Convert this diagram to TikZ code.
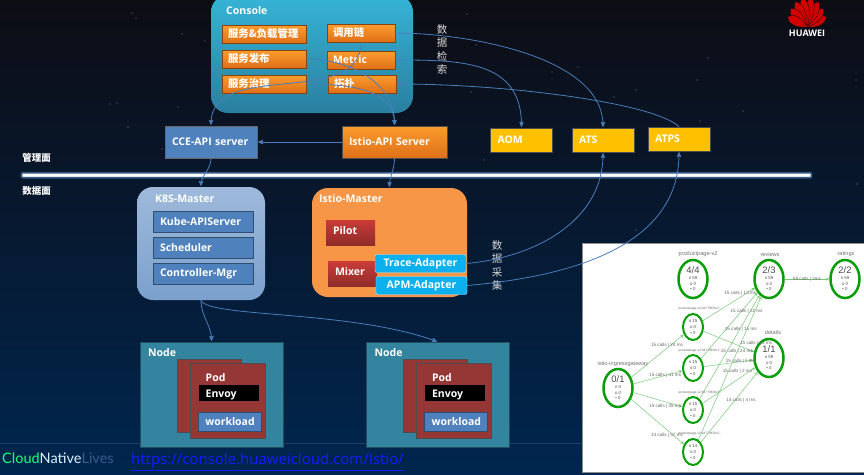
\documentclass[tikz,border=0pt]{standalone}
\usepackage{fontspec}
\setmainfont{Open Sans}
\newfontfamily\cjk{Noto Sans CJK SC}
\newfontfamily\thinfont{Lato}
\newfontfamily\plotfont{Liberation Sans}
\usetikzlibrary{arrows,shapes.geometric}

\definecolor{skytop}{HTML}{0D0D14}
\definecolor{skymid}{HTML}{04162C}
\definecolor{skybot}{HTML}{00264F}
\definecolor{linkblue}{HTML}{4A7EBB}
\definecolor{boxblue}{HTML}{4F81BD}
\definecolor{amber}{HTML}{FFC000}
\definecolor{teal}{HTML}{33849E}
\definecolor{podred}{HTML}{953735}
\definecolor{adapter}{HTML}{0DB0EE}
\definecolor{kialigreen}{HTML}{0A9E0A}
\definecolor{consoletop}{HTML}{36B4D6}
\definecolor{consolebot}{HTML}{2A7F9F}
\definecolor{btntop}{HTML}{FB9C2E}
\definecolor{btnbot}{HTML}{DF7018}
\definecolor{mastertone}{HTML}{F79646}
\definecolor{redtop}{HTML}{CB3B37}
\definecolor{redbot}{HTML}{8E2C29}

\newcommand{\bignum}[1]{\fontsize{9.4}{10}\selectfont #1}

\tikzset{
  txt/.style={text=white,font=\bfseries\fontsize{10.5}{12}\selectfont},
  cjktxt/.style={text=white,font=\cjk\bfseries\fontsize{10.4}{12}\selectfont},
  paneltitle/.style={txt,anchor=west,inner sep=0pt},
  btn/.style={draw=btnbot!60!black,top color=btntop,bottom color=btnbot,
              minimum height=18pt,text width=#1,align=left,inner ysep=0pt,inner xsep=6pt},
  btn/.default=72pt,
  solidbox/.style={txt,minimum height=#1,inner ysep=0pt,inner xsep=7pt,align=left},
  bluebox/.style={solidbox=21pt,fill=boxblue,draw=boxblue!60!black,line width=1pt,text width=86pt},
  yellowbox/.style={solidbox=24pt,fill=amber,draw=black!70,text width=48pt},
  redbox/.style={txt,top color=redtop,bottom color=redbot,inner xsep=7pt,text height=8pt,text depth=5pt,
                 minimum height=25pt,text width=35pt,align=left,inner ysep=0pt},
  adapterbox/.style={txt,fill=adapter,draw=white!70!adapter,rounded corners=2pt,minimum width=91pt,
                     minimum height=18pt,inner sep=0pt},
  vertlabel/.style={text=white!85!black,align=center,inner sep=0pt,font=\cjk\fontsize{10.5}{13.6}\selectfont},
  nodearea/.style={fill=teal,draw=teal!60!black,minimum width=143pt,minimum height=105pt},
  podcard/.style={fill=podred,draw=black!70,inner sep=0pt},
  conn/.style={->,linkblue,line width=.8pt},
  svc/.style={ellipse,draw=kialigreen,line width=2.5pt,fill=white,minimum width=29pt,minimum height=38pt,
              inner sep=-5pt,align=center,text=black!70,font=\plotfont\fontsize{4.3}{5.6}\selectfont},
  podsvc/.style={svc,line width=2pt,minimum width=20pt,minimum height=26pt},
  svctitle/.style={text=black!55,inner sep=0pt,font=\plotfont\fontsize{5.6}{6}\selectfont},
  podtitle/.style={text=black!60,inner sep=0pt,font=\plotfont\fontsize{3.2}{4}\selectfont},
  callline/.style={->,>=stealth,kialigreen!55!white,line width=.5pt,shorten >=0pt},
  calls/.style={text=black!60,inner sep=0pt,font=\plotfont\fontsize{4.6}{5}\selectfont}
}

\begin{document}
\begin{tikzpicture}[x=1pt,y=-1pt,>=stealth',shorten >=1pt,node distance=25pt]

  \clip (0,0) rectangle (864,474);
  \shade[top color=skytop,middle color=skymid,bottom color=skybot] (0,0) rectangle (864,474);
  \draw[skybot!88!white,line width=.4pt] (0,443) -- (864,443);
  \foreach \sx/\sy in {132/13,136/18,182/34,205/41,110/104,117/103,128/127,162/149,178/107,467/14,
                       476/45,578/67,552/72,708/58,697/80,743/111,700/121,856/80,857/184,636/90,
                       614/97,525/90,471/92,484/160,636/230}
    \fill[white!45!skymid] (\sx,\sy) circle (.7pt);

  % logo
  \foreach \petal/\plen in {-62/22,-42/25,-24/28,-8/30,8/30,24/28,42/25,62/22}
    \fill[red!82!black,draw=skytop,line width=.3pt,rotate around={\petal:(807,27)}]
      (807,27) .. controls (800,{27-.5*\plen}) and (802,{27-.85*\plen}) .. (807,{27-\plen})
               .. controls (812,{27-.85*\plen}) and (814,{27-.5*\plen}) .. (807,27);
  \node[text=white,inner sep=0pt,font=\bfseries\fontsize{9}{10}\selectfont] (huawei) at (807,33) {HUAWEI};

  % management plane
  \node[cjktxt,inner sep=0pt] (mgmt) at (36.5,158) {\fontsize{9.5}{11}\selectfont 管理面};
  \node[cjktxt,inner sep=0pt] (datap) at (36.5,191) {\fontsize{9.5}{11}\selectfont 数据面};
  \node[fill=white,draw=linkblue!70!black,line width=1.7pt,rounded corners=1pt,minimum width=790pt,
        minimum height=5pt,inner sep=0pt] (split) at (416.5,175.2) {};

  \node[top color=consoletop,bottom color=consolebot,rounded corners=17pt,
        minimum width=202pt,minimum height=118pt] (console) at (312,54) {};
  \node[paneltitle] (consoletitle) at (226,11) {Console};

  \node[btn,cjktxt] (svcmgmt)                 at (264,34) {服务\&负载管理};
  \node[btn,cjktxt] (svcpub)  [below of=svcmgmt] {服务发布};
  \node[btn,cjktxt] (svcgov)  [below of=svcpub]  {服务治理};
  \node[btn=56pt,cjktxt] (chain)              at (361,33) {调用链};
  \node[btn=56pt,txt]    (metric) [below of=chain, yshift=-2pt] {Metric};
  \node[btn=56pt,cjktxt] (topo)               at (362,84) {拓扑};

  \node[solidbox=32pt,fill=boxblue,draw=black!60,text width=78pt] (cce) at (211,142) {CCE-API server};
  \node[solidbox=32pt,top color=btntop,bottom color=btnbot,draw=black!70,text width=91pt]
                                                                  (istioapi) at (394.5,142) {Istio-API Server};
  \node[yellowbox] (aom)  at (521.5,140) {AOM};
  \node[yellowbox] (ats)  at (603,140)   {ATS};
  \node[yellowbox] (atps) at (679,139)   {ATPS};

  \node[vertlabel] (retrieve) at (442,49.5) {数\\据\\检\\索};
  \node[vertlabel] (collect)  at (497,265.5) {数\\据\\采\\集};

  % data plane
  \node[top color=boxblue!55!white,bottom color=boxblue!75!white,rounded corners=16pt,
        minimum width=128pt,minimum height=113pt] (k8s) at (201,243.5) {};
  \node[paneltitle] (k8stitle) at (155,199) {K8S-Master};
  \node[bluebox] (kube)  at (203,221.5) {Kube-APIServer};
  \node[bluebox] (sched) [below of=kube, node distance=26pt]  {Scheduler};
  \node[bluebox] (ctrl)  [below of=sched, node distance=26pt] {Controller-Mgr};

  \node[fill=mastertone,rounded corners=16pt,minimum width=155pt,minimum height=109pt]
                                                                  (istiomaster) at (389.5,242.5) {};
  \node[paneltitle] (istiotitle) at (319,199) {Istio-Master};
  \node[redbox] (pilot) at (350.5,232.5) {Pilot};
  \node[redbox] (mixer) at (352.5,274)   {Mixer};
  \node[adapterbox] (trace) at (420.5,263.5) {Trace-Adapter};
  \node[adapterbox] (apm)   at (421.5,285.5) {APM-Adapter};

  % two worker nodes
  \foreach \nid/\dx in {one/0,two/226.4} {
    \node[nodearea] (node\nid) at (211.5+\dx,394.5) {};
    \node[paneltitle] (title\nid) at (148+\dx,353) {Node};
    \node[podcard,minimum width=64pt,minimum height=73pt] (back\nid)  at (209+\dx,395.5) {};
    \node[podcard,minimum width=75pt,minimum height=75pt] (front\nid) at (227.5+\dx,400.5) {};
    \node[paneltitle] (pod\nid) at (205.5+\dx,378) {Pod};
    \node[fill=black,minimum width=60pt,minimum height=16pt,inner ysep=0pt] (bar\nid) at (229+\dx,393) {};
    \node[paneltitle] (envoy\nid) at (205.5+\dx,395) {Envoy};
    \node[txt,fill=boxblue,draw=boxblue!60!black,line width=1pt,minimum width=63pt,minimum height=19pt,
          inner sep=0pt] (work\nid) at (230+\dx,421.5) {workload};
  }

  % screenshot of the service graph
  \node[fill=white,draw=black!45,line width=.8pt,minimum width=284pt,minimum height=229pt,inner sep=0pt]
                                                                  (shot) at (724,357.5) {};
  \node[svc]    (ingress) at (618,388) {\bignum{0/1}\\ n 0\\ o 0\\ \textbullet\ 0};
  \node[svc]    (pp)      at (693,279) {\bignum{4/4}\\ n 59\\ o 0\\ \textbullet\ 0};
  \node[svc]    (reviews) at (769,279) {\bignum{2/3}\\ n 59\\ o 0\\ \textbullet\ 0};
  \node[svc]    (ratings) at (845,279) {\bignum{2/2}\\ n 59\\ o 0\\ \textbullet\ 0};
  \node[svc]    (details) at (769,358) {\bignum{1/1}\\ n 59\\ o 0\\ \textbullet\ 0};
  \node[podsvc] (pa)      at (693,327) {n 15\\ o 0\\ \textbullet\ 0};
  \node[podsvc] (pb)      at (693,368) {n 15\\ o 0\\ \textbullet\ 0};
  \node[podsvc] (pc)      at (693,410) {n 15\\ o 0\\ \textbullet\ 0};
  \node[podsvc] (pd)      at (693,452) {n 14\\ o 0\\ \textbullet\ 0};

  \node[svctitle] (ppname)      at (698,254) {productpage-v2};
  \node[svctitle] (reviewsname) at (770,254) {reviews};
  \node[svctitle] (ratingsname) at (846,254) {ratings};
  \node[svctitle] (detailsname) at (773,332) {details};
  \node[svctitle] (ingressname) at (623,364) {istio-ingressgateway};
  \node[podtitle] (paname) at (700,309) {productpage-v2-6477967bcf...};
  \node[podtitle] (pbname) at (700,351) {productpage-v2-6477967bcf...};
  \node[podtitle] (pcname) at (700,393) {productpage-v2-6477967bcf...};
  \node[podtitle] (pdname) at (700,434) {productpage-v2-6477967bcf...};

  \path[callline]
    (ingress) edge node[calls,pos=.68,yshift=3pt] {15 calls | 24 ms} (pa)
              edge node[calls,pos=.65] {15 calls | 41 ms} (pb)
              edge node[calls,pos=.65,yshift=-4pt] {15 calls | 35 ms} (pc)
              edge node[calls,pos=.68,yshift=-6pt] {14 calls | 37 ms} (pd)
    (pa) edge node[calls,pos=.72,yshift=4pt] {15 calls | 13 ms} (reviews)
         edge node[calls,pos=.62,xshift=2pt,yshift=-7pt] {15 calls | 24 ms} (details)
    (pb) edge node[calls,pos=.72,xshift=5pt] {15 calls | 22 ms} (reviews)
         edge node[calls,pos=.8,xshift=-3pt] {15 calls | 5 ms} (details)
    (pc) edge node[calls,pos=.62,xshift=4pt,yshift=5pt] {15 calls | 15 ms} (reviews)
         edge node[calls,pos=.72,xshift=-3pt,yshift=6pt] {15 calls | 2 ms} (details)
    (pd) edge node[calls,pos=.6,xshift=20pt,yshift=11pt] {15 calls | 14 ms} (reviews)
         edge node[calls,pos=.6,xshift=6pt] {14 calls | 4 ms} (details)
    (reviews) edge node[calls,pos=.5] {59 calls | 2ms} (ratings);

  % links
  \path[conn]
    (chain.east)    edge [out=0,in=90,looseness=.8] (ats.north)
    (metric.east)   edge [out=0,in=90,looseness=1.2] (aom.north)
    (atps.north)    edge [out=135,in=0,out looseness=.3] (topo.east)
    (chain.south)   edge [out=-90,in=90] (cce.north)
    (svcpub.east)   edge [out=0,in=90] (istioapi.north)
    (svcgov.east)   edge [out=0,in=90] (istioapi.north)
    (istioapi.west) edge (cce.east)
    (cce.south)     edge [out=-90,in=90] (k8s.north)
    (istioapi.south) edge [out=-90,in=90] (istiomaster.north)
    (trace.east)    edge [out=5,in=-90] (ats.south)
    (apm.east)      edge [out=5,in=-90] (atps.south)
    (k8s.south)     edge [out=-90,in=90] (nodeone.north)
    (k8s.south)     edge [out=-70,in=160,out looseness=.2] (nodetwo.north);

  \node[inner sep=0pt,anchor=west,font=\thinfont\fontsize{14.5}{16}\selectfont] (brand) at (2,458)
    {\textcolor{green!60!cyan!90!white}{Cloud}\textcolor{white!85!cyan}{Native}\textcolor{linkblue!75!black}{Lives}};
  \node[inner sep=0pt,anchor=west,text=blue!90!white,font=\fontsize{15}{16}\selectfont] (link) at (131,462)
    {\underline{https://console.huaweicloud.com/Istio/}};
\end{tikzpicture}
\end{document}
